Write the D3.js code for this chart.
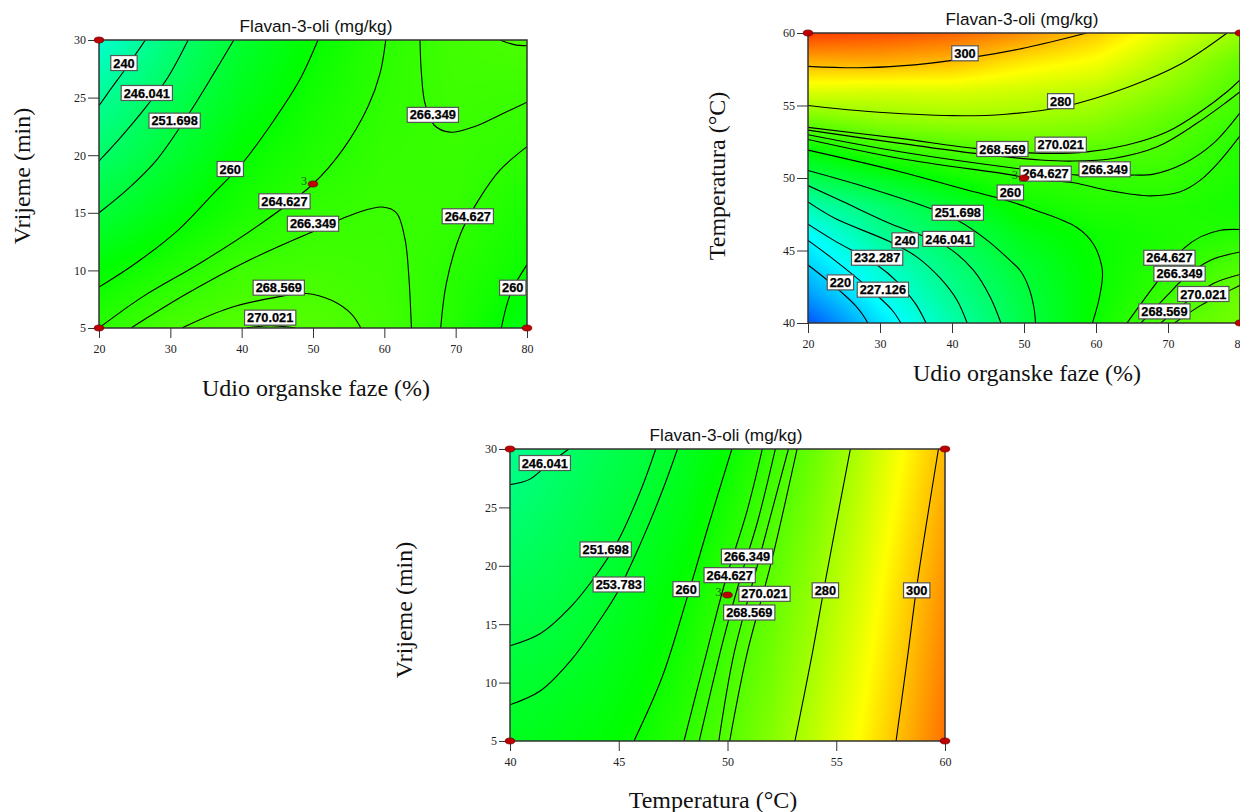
<!DOCTYPE html>
<html><head><meta charset="utf-8">
<script src="https://cdn.jsdelivr.net/npm/d3@7"></script>
<style>html,body{margin:0;padding:0;background:#fff;overflow:hidden}svg{display:block}</style>
</head><body><svg id="c" width="1240" height="812"></svg>
<script>
const titleText = "Flavan-3-oli (mg/kg)";
const colorStops = [192,226,259,292,326];
const colorRange = ["#0000ff","#00ffff","#00ff00","#ffff00","#ff0000"];

// Panel 1: organic phase vs time
const p1XTicks=[20,30,40,50,60,70,80], p1YTicks=[5,10,15,20,25,30];
const p1GridX=[20,30,40,50,60,70,80], p1GridY=[5,10,15,20,25,30];
const p1Grid=[
 [264.6,268.3,270,269.9,267.5,263.5,256],
 [259,263.2,267,267.7,267,264,260.5],
 [251.7,257.5,262.5,265.6,266.5,265.8,262],
 [245.5,252.4,259.5,263,265.7,266.2,264.8],
 [239.5,248,255.8,261.2,265,267,266.4],
 [232,243.5,253,259.4,264.5,267.5,268.8]];
const p1Lines=[
 [[20,24.3],[21.6,25.7],[23.6,27.4],[25.4,29],[26.5,30]],
 [[20,19.5],[23.1,21.6],[26.6,24.2],[29.6,26.7],[32.5,30]],
 [[20,15],[24.1,17.1],[28.1,19.6],[32.6,23.6],[36.1,27.1],[38.9,30]],
 [[20,8.55],[25.1,10.6],[31.1,13.5],[36.1,16.7],[40.1,19.3],[44.6,23.1],[48.1,26.5],[50.7,30]],
 [[20,5],[26.1,7.7],[34.1,10.6],[42.1,13.8],[50,17.5],[54.2,20.5],[57.7,24.2],[59.4,27.1],[60.2,30]],
 [[24.5,5],[32.1,7.9],[41.1,10.9],[50.1,13.4],[56.2,15],[59.7,15.5],[61.7,15],[62.9,12.7],[63.4,9.8],[63.8,5]],
 [[31.6,5],[38.1,6.7],[45.1,7.7],[49.1,8],[52.6,7.4],[55.4,6.2],[56.7,5]],
 [[40.6,5],[44.1,5.2],[47.6,5]],
 [[65,30],[65.2,27.1],[65.7,24.5],[67,22.6],[69.2,22],[72.7,22.5],[76.2,23.5],[80,24.6]],
 [[67.9,5],[68.7,8.9],[70.7,13.2],[73.2,16.1],[76.2,18.7],[80,20.75]],
 [[76.4,5],[77.7,8],[80,10.5]],
 [[76.2,30],[78.2,29.6],[80,29.5]]];
const p1Labels=[["240",23.5,28],["246.041",26.7,25.4],["251.698",30.6,23],["260",38.4,18.8],["264.627",46,16],["266.349",50,14.05],["268.569",45.2,8.5],["270.021",44,5.9],["266.349",66.8,23.5],["264.627",71.7,14.7],["260",78,8.5]];
const p1Points=[[20,30],[20,5],[80,5],[50,17.5]];

// Panel 2: organic phase vs temperature
const p2XTicks=[20,30,40,50,60,70,80], p2YTicks=[40,45,50,55,60];
const p2GridX=[20,30,40,50,60,70,80], p2GridY=[40,42,44,46,48,50,52,54,56,58,60];
const p2Grid=[
 [203,222,237,250,260.3,269.6,274],
 [213,228,240.5,251,259.8,266.3,273],
 [220,232.6,243.5,253,259.9,264.2,269],
 [225.5,239.5,247.7,256.2,260.5,262.5,264],
 [236,244.5,252.5,260.8,263,263.3,261.5],
 [249,255,260.5,264.6,265.9,265.8,262.5],
 [259.5,265.8,268.8,271,270.5,268.5,263.5],
 [273.5,277.5,279,279,277,271.3,266],
 [288,287,287.5,285.5,283,276.5,268.8],
 [302.5,303,301,295,291,281.5,272],
 [318,316,313,307,299,288,279]];
const p2Lines=[
 [[20,57.7],[27,57.6],[34.8,57.8],[42.6,58.3],[50.4,59],[58.7,60]],
 [[20,55],[28,54.6],[40.2,54.3],[47.5,54.4],[55.3,54.9],[64.6,56.3],[71.9,57.9],[78.2,60]],
 [[20,53.49],[32.8,52.73],[43.2,52.04],[52.4,51.7],[58.75,51.8],[64.3,52.27],[69.9,53.19],[74.5,54.57],[78.2,55.95],[80,56.76]],
 [[20,53.3],[32.8,52.39],[43.2,51.7],[52.3,51.24],[56.9,51.17],[62.4,51.35],[68.5,52.15],[74,53.77],[78.2,55.26],[80,55.95]],
 [[20,52.98],[32.8,51.81],[49,50.66],[57.5,50.2],[64.8,50.2],[68,50.27],[72.2,51],[76.3,52.39],[80,54.5]],
 [[20,52.66],[32.8,51.35],[48.4,50.2],[52.3,49.85],[56.9,49.67],[61.5,49.16],[67.5,48.77],[71.7,49.05],[74.5,49.85],[77.3,51.23],[80,52.9]],
 [[20,51.92],[32.8,50.43],[42.1,49.17],[46.7,48.59],[51.3,47.83],[57.3,46.6],[59.7,45.4],[60.8,43.9],[60.9,43.2],[60.4,41.6],[59.5,40]],
 [[20,50.52],[28.2,49.35],[37,47.9],[40.7,47.1],[44.9,45.7],[48.1,44.3],[49.5,43.6],[50.7,42.4],[51.4,41],[51.6,40]],
 [[20,49.48],[24.9,48.36],[31.4,46.86],[39.3,45.25],[43,43.63],[45.3,41.8],[46.8,40]],
 [[20,48.35],[23.8,47.2],[31.4,45.6],[35.1,44.56],[38.4,43.07],[40.7,41.57],[42.1,40]],
 [[20,46.82],[23.6,45.7],[29.6,44],[32.4,42.84],[34.9,41.35],[36.4,40]],
 [[20,45.7],[23.1,44.56],[26.3,43.3],[29.6,41.9],[31.7,40.88],[32.9,40]],
 [[20,44],[22.4,43.07],[24.7,42.1],[26.6,41.2],[27.7,40.5],[28.3,40]],
 [[64.3,40],[68.5,42.84],[72.2,45.14],[74.5,45.94],[77.3,46.4],[80,46.45]],
 [[66.25,40],[69.9,41.9],[72.2,43.07],[75.9,44.33],[80,44.9]],
 [[69,40],[72.6,41.46],[76.3,42.73],[80,43.35]],
 [[70.9,40],[74.5,41.2],[78.2,42.15],[80,42.6]]];
const p2Labels=[["300",41.8,58.6],["280",55.1,55.3],["268.569",47,52],["270.021",55.1,52.3],["266.349",61.2,50.6],["264.627",53,50.3],["260",48.1,49],["251.698",40.8,47.6],["246.041",39.5,45.8],["240",33.5,45.7],["232.287",29.6,44.5],["227.126",30.4,42.3],["220",24.5,42.8],["264.627",70.2,44.5],["266.349",71.6,43.4],["270.021",74.9,42],["268.569",69.5,40.8]];
const p2Points=[[20,60],[80,60],[80,40],[50,50]];

// Panel 3: temperature vs time
const p3XTicks=[40,45,50,55,60], p3YTicks=[5,10,15,20,25,30];
const p3GridX=[40,42,44,46,48,50,52,54,56,58,60], p3GridY=[5,17.5,30];
const p3Grid=[
 [255,256.5,258,260.5,264.6,269.8,276,283.5,292,301.2,311],
 [248.5,250,252.5,256,260,265.6,271.5,278.5,287,297,307],
 [240.5,244.5,248,250.7,254.5,259.5,265.8,272.5,281.5,291.5,301.5]];
const p3Lines=[
 [[40,26.95],[40.9,27.4],[41.7,28.6],[42.7,30]],
 [[40,13.15],[41.4,14.2],[42.8,16.5],[44,19.3],[44.9,21.9],[46,26.4],[46.7,30]],
 [[40,8.1],[41.4,9.3],[42.8,11.9],[44,15],[44.9,17.6],[46,21.9],[47,26.4],[47.7,30]],
 [[45.7,5],[47,10.5],[48.1,17],[49.1,23.3],[50.2,30]],
 [[48,5],[49.1,13],[49.9,18.7],[50.9,24.7],[51.6,30]],
 [[48.7,5],[49.8,13.6],[50.6,19],[51.4,23.9],[52.2,30]],
 [[49.6,5],[50.3,12.5],[51.4,20.2],[52.8,30]],
 [[50.1,5],[50.9,12.5],[52,20.2],[53.2,30]],
 [[53.1,5],[53.9,12.5],[54.5,18.7],[55.65,30]],
 [[57.75,5],[58.3,12.5],[58.7,18.2],[59.7,30]]];
const p3Labels=[["246.041",41.6,28.8],["251.698",44.4,21.4],["253.783",45,18.4],["260",48.1,18],["264.627",50.1,19.2],["266.349",50.9,20.8],["270.021",51.7,17.6],["268.569",51,16],["280",54.5,17.9],["300",58.7,17.9]];
const p3Points=[[40,30],[60,30],[40,5],[60,5],[50,17.5]];

const svg=d3.select("#c");
const color=d3.scaleLinear().domain(colorStops).range(colorRange).clamp(true);
let clipN=0;

function panel(o){
  const w=o.x1-o.x0,h=o.y1-o.y0;
  const x=d3.scaleLinear().domain(o.xd).range([o.x0,o.x1]);
  const y=d3.scaleLinear().domain(o.yd).range([o.y1,o.y0]);
  const g=svg.append("g");
  const cv=document.createElement("canvas");cv.width=w;cv.height=h;
  const ctx=cv.getContext("2d");const im=ctx.createImageData(w,h);
  const ix=d3.scaleLinear().domain(o.gx).range(o.gx.map((_,i)=>i)).clamp(true);
  const iy=d3.scaleLinear().domain(o.gy).range(o.gy.map((_,i)=>i)).clamp(true);
  for(let r=0;r<h;r++){
    const fy=iy(y.invert(o.y0+r+.5));const j=Math.min(Math.floor(fy),o.gy.length-2),ty=fy-j;
    for(let c=0;c<w;c++){
      const fx=ix(x.invert(o.x0+c+.5));const i=Math.min(Math.floor(fx),o.gx.length-2),tx=fx-i;
      const v=(o.grid[j][i]*(1-tx)+o.grid[j][i+1]*tx)*(1-ty)+(o.grid[j+1][i]*(1-tx)+o.grid[j+1][i+1]*tx)*ty;
      const q=d3.rgb(color(v));const k=(r*w+c)*4;
      im.data[k]=q.r;im.data[k+1]=q.g;im.data[k+2]=q.b;im.data[k+3]=255;
    }
  }
  ctx.putImageData(im,0,0);
  g.append("image").attr("x",o.x0).attr("y",o.y0).attr("width",w).attr("height",h).attr("href",cv.toDataURL());
  const id="clip"+(clipN++);
  svg.append("clipPath").attr("id",id).append("rect").attr("x",o.x0).attr("y",o.y0).attr("width",w).attr("height",h);
  const line=d3.line().x(d=>x(d[0])).y(d=>y(d[1])).curve(d3.curveCatmullRom.alpha(.5));
  g.append("g").attr("clip-path",`url(#${id})`).selectAll("path").data(o.lines).join("path")
    .attr("d",line).attr("fill","none").attr("stroke","#000").attr("stroke-width",1.1);
  g.append("rect").attr("x",o.x0).attr("y",o.y0).attr("width",w).attr("height",h).attr("fill","none").attr("stroke","#333").attr("stroke-width",1.5);
  const ax=g.append("g").attr("transform",`translate(0,${o.y1})`).call(d3.axisBottom(x).tickValues(o.xt).tickSize(10).tickPadding(6).tickFormat(d3.format("d")));
  const ay=g.append("g").attr("transform",`translate(${o.x0},0)`).call(d3.axisLeft(y).tickValues(o.yt).tickSize(11).tickPadding(2).tickFormat(d3.format("d")));
  [ax,ay].forEach(a=>{a.select(".domain").remove();a.selectAll("line").attr("stroke","#333");
    a.selectAll("text").attr("font-family","'Liberation Serif'").attr("font-size",12).attr("fill","#222");});
  const lg=g.append("g").selectAll("g").data(o.labels).join("g").attr("transform",d=>`translate(${x(d[1])},${y(d[2])})`);
  const txt=lg.append("text").text(d=>d[0]).attr("text-anchor","middle").attr("dy","0.36em")
    .attr("font-family","'Liberation Sans'").attr("font-weight","bold").attr("font-size",12.8).attr("fill","#000")
    .attr("stroke","#000").attr("stroke-width",.25);
  txt.each(function(){const b=this.getBBox();
    d3.select(this.parentNode).insert("rect","text").attr("x",b.x-2.5).attr("y",-7.5).attr("width",b.width+5).attr("height",15)
      .attr("fill","#fff").attr("stroke","#555").attr("stroke-width",1.2);});
  g.append("g").selectAll("ellipse").data(o.points).join("ellipse")
    .attr("cx",d=>x(d[0])).attr("cy",d=>y(d[1])).attr("rx",4.8).attr("ry",3)
    .attr("fill","#c00000").attr("stroke","#600").attr("stroke-width",.7);
  const ctr=o.points[o.points.length-1];
  g.append("text").text("3").attr("x",x(ctr[0])-6).attr("y",y(ctr[1])+1).attr("text-anchor","end")
    .attr("font-family","'Liberation Serif'").attr("font-size",12).attr("fill","#1d5a1d");
  g.append("text").text(titleText).attr("x",o.tx).attr("y",o.ty).attr("text-anchor","middle")
    .attr("font-family","'Liberation Sans'").attr("font-size",17.2).attr("fill","#111");
  g.append("text").text(o.xl).attr("x",o.xlx).attr("y",o.xly).attr("text-anchor","middle")
    .attr("font-family","'Liberation Serif'").attr("font-size",24).attr("fill","#111");
  g.append("text").text(o.yl).attr("transform",`translate(${o.ylx},${o.yly}) rotate(-90)`).attr("text-anchor","middle")
    .attr("font-family","'Liberation Serif'").attr("font-size",24).attr("fill","#111");
}

const labOrg="Udio organske faze (%)",labTime="Vrijeme (min)",labTemp="Temperatura (°C)";
panel({x0:99,x1:527,y0:40,y1:328,xd:[20,80],yd:[5,30],xt:p1XTicks,yt:p1YTicks,gx:p1GridX,gy:p1GridY,grid:p1Grid,lines:p1Lines,labels:p1Labels,points:p1Points,
  tx:316,ty:32,xl:labOrg,xlx:316,xly:396,yl:labTime,ylx:30,yly:176});
panel({x0:808,x1:1240,y0:33,y1:323,xd:[20,80],yd:[40,60],xt:p2XTicks,yt:p2YTicks,gx:p2GridX,gy:p2GridY,grid:p2Grid,lines:p2Lines,labels:p2Labels,points:p2Points,
  tx:1022,ty:25,xl:labOrg,xlx:1027,xly:381,yl:labTemp,ylx:725,yly:176});
panel({x0:510,x1:945,y0:449,y1:741,xd:[40,60],yd:[5,30],xt:p3XTicks,yt:p3YTicks,gx:p3GridX,gy:p3GridY,grid:p3Grid,lines:p3Lines,labels:p3Labels,points:p3Points,
  tx:726,ty:441,xl:labTemp,xlx:713,xly:808,yl:labTime,ylx:412,yly:610});
</script></body></html>
